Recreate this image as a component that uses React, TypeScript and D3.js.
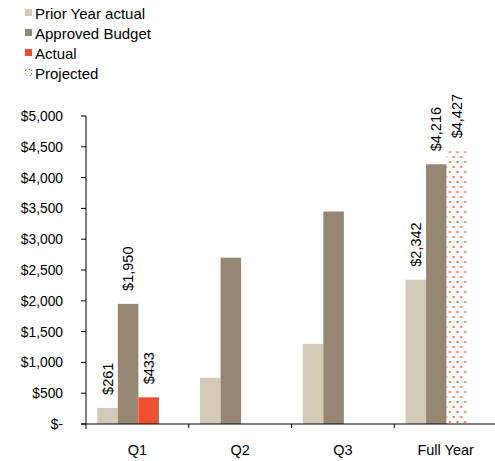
import React, { useEffect, useRef } from "react";
import * as d3 from "d3";

const categories = ["Q1", "Q2", "Q3", "Full Year"];
const priorYear = [261, 750, 1300, 2342];
const budget = [1950, 2700, 3450, 4216];
const actual = [433, null, null, null];
const projected = [null, null, null, 4427];
const labeledCategories = ["Q1", "Full Year"];
const yTicks = [0, 500, 1000, 1500, 2000, 2500, 3000, 3500, 4000, 4500, 5000];
const legendLabels = ["Prior Year actual", "Approved Budget", "Actual", "Projected"];
// excel keeps a slot per series, projected shares the actual slot
const slots = ["prior", "budget", "actual", "spare"];

const App = () => {
  const width = 495;
  const height = 461;
  const ref = useRef(null);

  useEffect(() => {
    const svg = d3.select(ref.current);
    svg.selectAll("g").remove();

    const font = "'Liberation Sans', Arial, sans-serif";
    const colors = {
      prior: "#d3cab8",
      budget: "#958773",
      actual: "#f0502f",
      projected: "#f0553a",
    };

    const x = d3.scaleBand().domain(categories).range([86, 497]);
    const xs = d3
      .scaleBand()
      .domain(slots)
      .range([0, x.bandwidth()])
      .paddingOuter(0.5);
    const y = d3.scaleLinear().domain([0, 5000]).range([424, 116]);

    const series = [
      { key: "prior", slot: "prior", values: priorYear, fill: colors.prior },
      { key: "budget", slot: "budget", values: budget, fill: colors.budget },
      { key: "actual", slot: "actual", values: actual, fill: colors.actual },
      { key: "projected", slot: "actual", values: projected, fill: "url(#dots)" },
    ];

    const money = (v) => (v === 0 ? "$-" : "$" + d3.format(",")(v));

    // bars
    const bars = svg.append("g");
    series.forEach((s) => {
      categories.forEach((c, i) => {
        const v = s.values[i];
        if (v == null) return;
        bars
          .append("rect")
          .attr("x", x(c) + xs(s.slot) + 1)
          .attr("y", y(v))
          .attr("width", xs.bandwidth())
          .attr("height", y(0) - y(v))
          .attr("fill", s.fill);
      });
    });

    // value labels
    const labels = svg.append("g");
    series.forEach((s) => {
      categories.forEach((c, i) => {
        const v = s.values[i];
        if (v == null || !labeledCategories.includes(c)) return;
        const cx = x(c) + xs(s.slot) + xs.bandwidth() / 2 + 6;
        const cy = y(v) - 13;
        labels
          .append("text")
          .attr("transform", `translate(${cx},${cy}) rotate(-90)`)
          .attr("font-family", font)
          .attr("font-size", 14.5)
          .attr("fill", "#000")
          .text(money(v));
      });
    });

    // y axis
    const yAxis = svg.append("g");
    yAxis
      .append("line")
      .attr("x1", 86)
      .attr("x2", 86)
      .attr("y1", y(5000))
      .attr("y2", y(0) + 5)
      .attr("stroke", "#000");
    yTicks.forEach((t) => {
      yAxis
        .append("line")
        .attr("x1", 81)
        .attr("x2", 86)
        .attr("y1", y(t))
        .attr("y2", y(t))
        .attr("stroke", "#000");
      yAxis
        .append("text")
        .attr("x", 63)
        .attr("y", y(t) + 5)
        .attr("text-anchor", "end")
        .attr("font-family", font)
        .attr("font-size", 13.8)
        .text(money(t));
    });

    // x axis
    const xAxis = svg.append("g");
    xAxis
      .append("line")
      .attr("x1", 81)
      .attr("x2", 497)
      .attr("y1", y(0))
      .attr("y2", y(0))
      .attr("stroke", "#000");
    categories.forEach((c, i) => {
      if (i > 0) {
        xAxis
          .append("line")
          .attr("x1", x(c))
          .attr("x2", x(c))
          .attr("y1", y(0))
          .attr("y2", y(0) + 4)
          .attr("stroke", "#000");
      }
      xAxis
        .append("text")
        .attr("x", x(c) + x.bandwidth() / 2)
        .attr("y", 455)
        .attr("text-anchor", "middle")
        .attr("font-family", font)
        .attr("font-size", 14.5)
        .text(c);
    });

    // legend
    const legend = svg.append("g");
    legendLabels.forEach((l, i) => {
      const ly = 19 + i * 20;
      if (i < 3) {
        legend
          .append("rect")
          .attr("x", 25)
          .attr("y", ly - 10)
          .attr("width", 7)
          .attr("height", 7)
          .attr("fill", [colors.prior, colors.budget, colors.actual][i]);
      } else {
        legend
          .append("rect")
          .attr("x", 25.5)
          .attr("y", ly - 9.5)
          .attr("width", 6)
          .attr("height", 6)
          .attr("fill", "none")
          .attr("stroke", colors.projected)
          .attr("stroke-dasharray", "1.2,2");
      }
      legend
        .append("text")
        .attr("x", 35)
        .attr("y", ly)
        .attr("font-family", font)
        .attr("font-size", 15)
        .text(l);
    });
  }, []);

  return (
    <div style={{ position: "absolute", left: 0, top: 0 }}>
      <svg ref={ref} width={width} height={height} style={{ display: "block" }}>
        <defs>
          <pattern id="dots" patternUnits="userSpaceOnUse" width="7.6" height="10">
            <rect width="7.6" height="10" fill="#fff" />
            <circle cx="1.5" cy="2" r="1.1" fill="#f0553a" />
            <circle cx="5.3" cy="7" r="1.1" fill="#f0553a" />
          </pattern>
        </defs>
      </svg>
    </div>
  );
};

export default App;
